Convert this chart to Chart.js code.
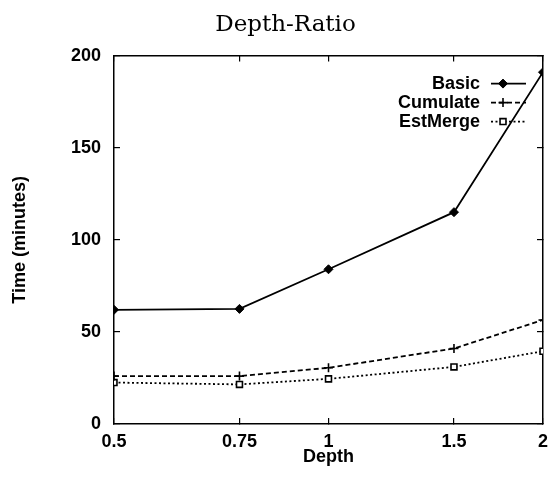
<!DOCTYPE html>
<html>
<head>
<meta charset="utf-8">
<script src="https://cdn.jsdelivr.net/npm/chart.js@4/dist/chart.umd.min.js"></script>
<style>
    body { margin: 0; background: #fff; }
    #wrap { width: 551px; height: 478px; }
</style>
</head>
<body>
<div id="wrap"><canvas id="chart" width="551" height="478"></canvas></div>
<script>
// --- Datos ---
const depths = [0.5, 0.75, 1, 1.5, 2];
const depthLabels = ['0.5', '0.75', '1', '1.5', '2'];
const basicTimes = [62, 62.5, 84, 115, 191];
const cumulateTimes = [26, 26, 30.5, 41, 56.5];
const estMergeTimes = [22.5, 21.5, 24.5, 31, 39.5];
const yTicks = [0, 50, 100, 150, 200];

const labelFont = { family: 'Liberation Sans', size: 18, weight: 'bold' };

function toPoints(values) {
    return depths.map((d, i) => ({ x: d, y: values[i] }));
}

// ticks solo en las profundidades
function depthTicks(scale) {
    scale.ticks = depths.map(v => ({ value: v }));
}
function timeTicks(scale) {
    scale.ticks = yTicks.map(v => ({ value: v }));
}

// leyenda dentro del área, texto a la izquierda y muestra a la derecha
const insideLegend = {
    id: 'insideLegend',
    afterDatasetsDraw(chart) {
        const ctx = chart.ctx;
        const area = chart.chartArea;
        const textRight = area.right - 63;
        const x1 = area.right - 52, x2 = area.right - 17, xm = area.right - 40;
        ctx.save();
        ctx.font = 'bold 18px "Liberation Sans"';
        ctx.textAlign = 'right';
        ctx.textBaseline = 'middle';
        chart.data.datasets.forEach((ds, i) => {
            const y = area.top + 28 + i * 19;
            ctx.fillStyle = '#000';
            ctx.fillText(ds.label, textRight, y);
            ctx.strokeStyle = '#000';
            ctx.lineWidth = ds.borderWidth;
            ctx.setLineDash(ds.borderDash || []);
            ctx.beginPath();
            ctx.moveTo(x1, y);
            ctx.lineTo(x2, y);
            ctx.stroke();
            ctx.setLineDash([]);
            ctx.fillStyle = ds.pointBackgroundColor;
            ctx.lineWidth = ds.pointBorderWidth;
            Chart.helpers.drawPoint(ctx, {
                pointStyle: ds.pointStyle, radius: ds.pointRadius,
                rotation: 0, borderWidth: ds.pointBorderWidth
            }, xm, y);
        });
        ctx.restore();
    }
};

// mover el título un poco a la derecha como en la figura
const titleShift = {
    id: 'titleShift',
    afterLayout(chart) {
        if (chart.titleBlock) chart.titleBlock.left += 28;
    }
};

const frameGrid = { drawOnChartArea: false, color: '#000', lineWidth: 1.2, tickLength: -6 };
const frameBorder = { color: '#000', width: 1.5 };

new Chart(document.getElementById('chart'), {
    type: 'line',
    data: {
        datasets: [{
            label: 'Basic',
            data: toPoints(basicTimes),
            borderColor: '#000', borderWidth: 1.8,
            pointStyle: 'rectRot', pointRadius: 4.5,
            pointBackgroundColor: '#000', pointBorderColor: '#000', pointBorderWidth: 1
        }, {
            label: 'Cumulate',
            data: toPoints(cumulateTimes),
            borderColor: '#000', borderWidth: 1.8, borderDash: [5, 3],
            pointStyle: 'cross', pointRadius: 4.5,
            pointBackgroundColor: '#000', pointBorderColor: '#000', pointBorderWidth: 1.6
        }, {
            label: 'EstMerge',
            data: toPoints(estMergeTimes),
            borderColor: '#000', borderWidth: 1.8, borderDash: [2, 2.5],
            pointStyle: 'rect', pointRadius: 4.2,
            pointBackgroundColor: '#fff', pointBorderColor: '#000', pointBorderWidth: 1.6
        }]
    },
    options: {
        responsive: false,
        animation: false,
        layout: { padding: { left: 0, right: 8, top: 0, bottom: 0 } },
        scales: {
            x: {
                type: 'logarithmic', position: 'bottom', min: 0.5, max: 2,
                afterBuildTicks: depthTicks,
                afterFit: s => { s.height = 54; s.paddingLeft = 0; s.paddingRight = 0; },
                ticks: {
                    color: '#000', font: labelFont, padding: 13, maxRotation: 0,
                    callback: (v, i) => depthLabels[i]
                },
                grid: frameGrid, border: frameBorder,
                title: { display: true, text: 'Depth', color: '#000', font: labelFont, padding: { top: 0, bottom: 10 } }
            },
            x2: {
                type: 'logarithmic', position: 'top', min: 0.5, max: 2,
                afterBuildTicks: depthTicks,
                afterFit: s => { s.height = 0; s.paddingLeft = 0; s.paddingRight = 0; },
                ticks: { display: false },
                grid: frameGrid, border: frameBorder
            },
            y: {
                type: 'linear', position: 'left', min: 0, max: 200,
                afterBuildTicks: timeTicks,
                afterFit: s => { s.width = 114; },
                ticks: { color: '#000', font: labelFont, padding: 19 },
                grid: frameGrid, border: frameBorder,
                title: { display: true, text: 'Time (minutes)', color: '#000', font: labelFont, padding: { top: 9, bottom: 0 } }
            },
            y2: {
                type: 'linear', position: 'right', min: 0, max: 200,
                afterBuildTicks: timeTicks,
                afterFit: s => { s.width = 0; },
                ticks: { display: false },
                grid: frameGrid, border: frameBorder
            }
        },
        plugins: {
            legend: { display: false },
            tooltip: { enabled: false },
            title: {
                display: true, text: 'Depth-Ratio', color: '#000',
                font: { family: 'DejaVu Serif', size: 23, weight: 'normal' },
                padding: { top: 11, bottom: 17 }
            }
        }
    },
    plugins: [insideLegend, titleShift]
});
</script>
</body>
</html>
